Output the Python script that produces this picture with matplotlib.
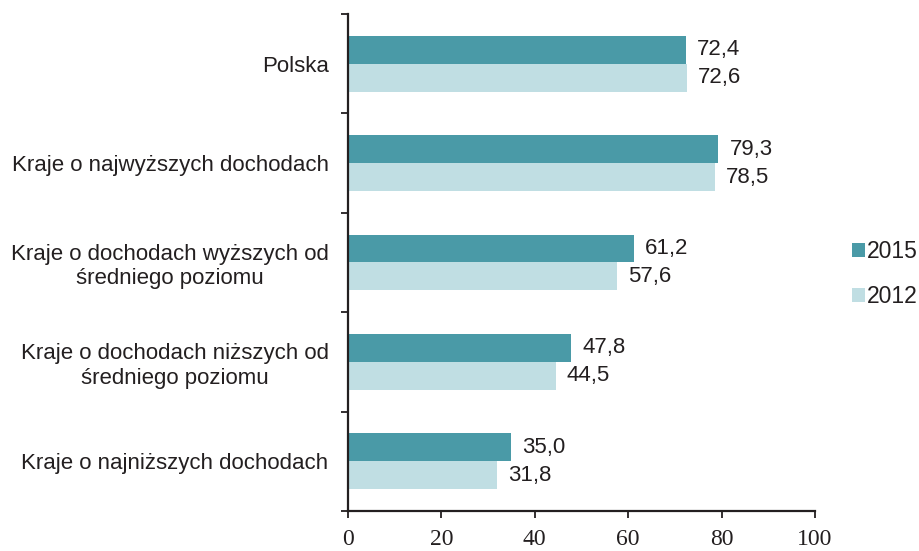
import numpy as np
import matplotlib
matplotlib.use("Agg")
import matplotlib.pyplot as plt
from matplotlib.patches import Patch

categories = [
    "Polska",
    "Kraje o najwyższych dochodach",
    "Kraje o dochodach wyższych od\nśredniego poziomu",
    "Kraje o dochodach niższych od\nśredniego poziomu",
    "Kraje o najniższych dochodach",
]
vals_2015 = [72.4, 79.3, 61.2, 47.8, 35.0]
vals_2012 = [72.6, 78.5, 57.6, 44.5, 31.8]
series_labels = ["2015", "2012"]

C15 = "#4a9aa7"
C12 = "#c0dee3"
INK = "#231f20"

fig = plt.figure(figsize=(9.19, 5.51), dpi=100)
ax = fig.add_axes([0.3787, 0.0726, 0.8868 - 0.3787, 0.9746 - 0.0726])

y = np.arange(len(categories))
h = 0.28
b15 = ax.barh(y - h / 2, vals_2015, height=h, color=C15, label=series_labels[0])
b12 = ax.barh(y + h / 2, vals_2012, height=h, color=C12, label=series_labels[1])

fmt = lambda v: f"{v:.1f}".replace(".", ",")
for bars, vals in ((b15, vals_2015), (b12, vals_2012)):
    ax.bar_label(bars, labels=[fmt(v) for v in vals], padding=8,
                 fontsize=16, family="Liberation Sans", color=INK)

ax.set_xlim(0, 100)
ax.set_ylim(len(categories) - 0.5, -0.5)

# boundaries between groups as major ticks, names on minor ticks
ax.set_yticks(np.arange(-0.5, len(categories), 1.0))
ax.set_yticklabels([])
ax.set_yticks(y, minor=True)
ax.set_yticklabels(categories, minor=True, fontsize=16,
                   family="Liberation Sans", color=INK)
for lbl in ax.get_yticklabels(minor=True):
    lbl.set_multialignment("center")
ax.tick_params(axis="y", which="minor", length=0, pad=14)
ax.tick_params(axis="y", which="major", length=5, width=1.3, color=INK)

ax.set_xticks(np.arange(0, 101, 20))
ax.tick_params(axis="x", length=5, width=1.3, color=INK, pad=8,
               labelsize=17, labelcolor=INK)
for lbl in ax.get_xticklabels():
    lbl.set_family("Liberation Serif")

for side in ("top", "right"):
    ax.spines[side].set_visible(False)
for side in ("left", "bottom"):
    ax.spines[side].set_linewidth(1.6)
    ax.spines[side].set_color(INK)

handles = [Patch(facecolor=C15), Patch(facecolor=C12)]
leg = fig.legend(handles, series_labels, loc="center left",
                 bbox_to_anchor=(0.927, 0.503), frameon=False,
                 prop={"family": "Liberation Sans", "size": 16.5},
                 handlelength=0.55, handleheight=0.55, handletextpad=0.1,
                 labelspacing=0.95, borderpad=0, borderaxespad=0)
for t in leg.get_texts():
    t.set_color(INK)

fig.savefig("out.png", dpi=100)
